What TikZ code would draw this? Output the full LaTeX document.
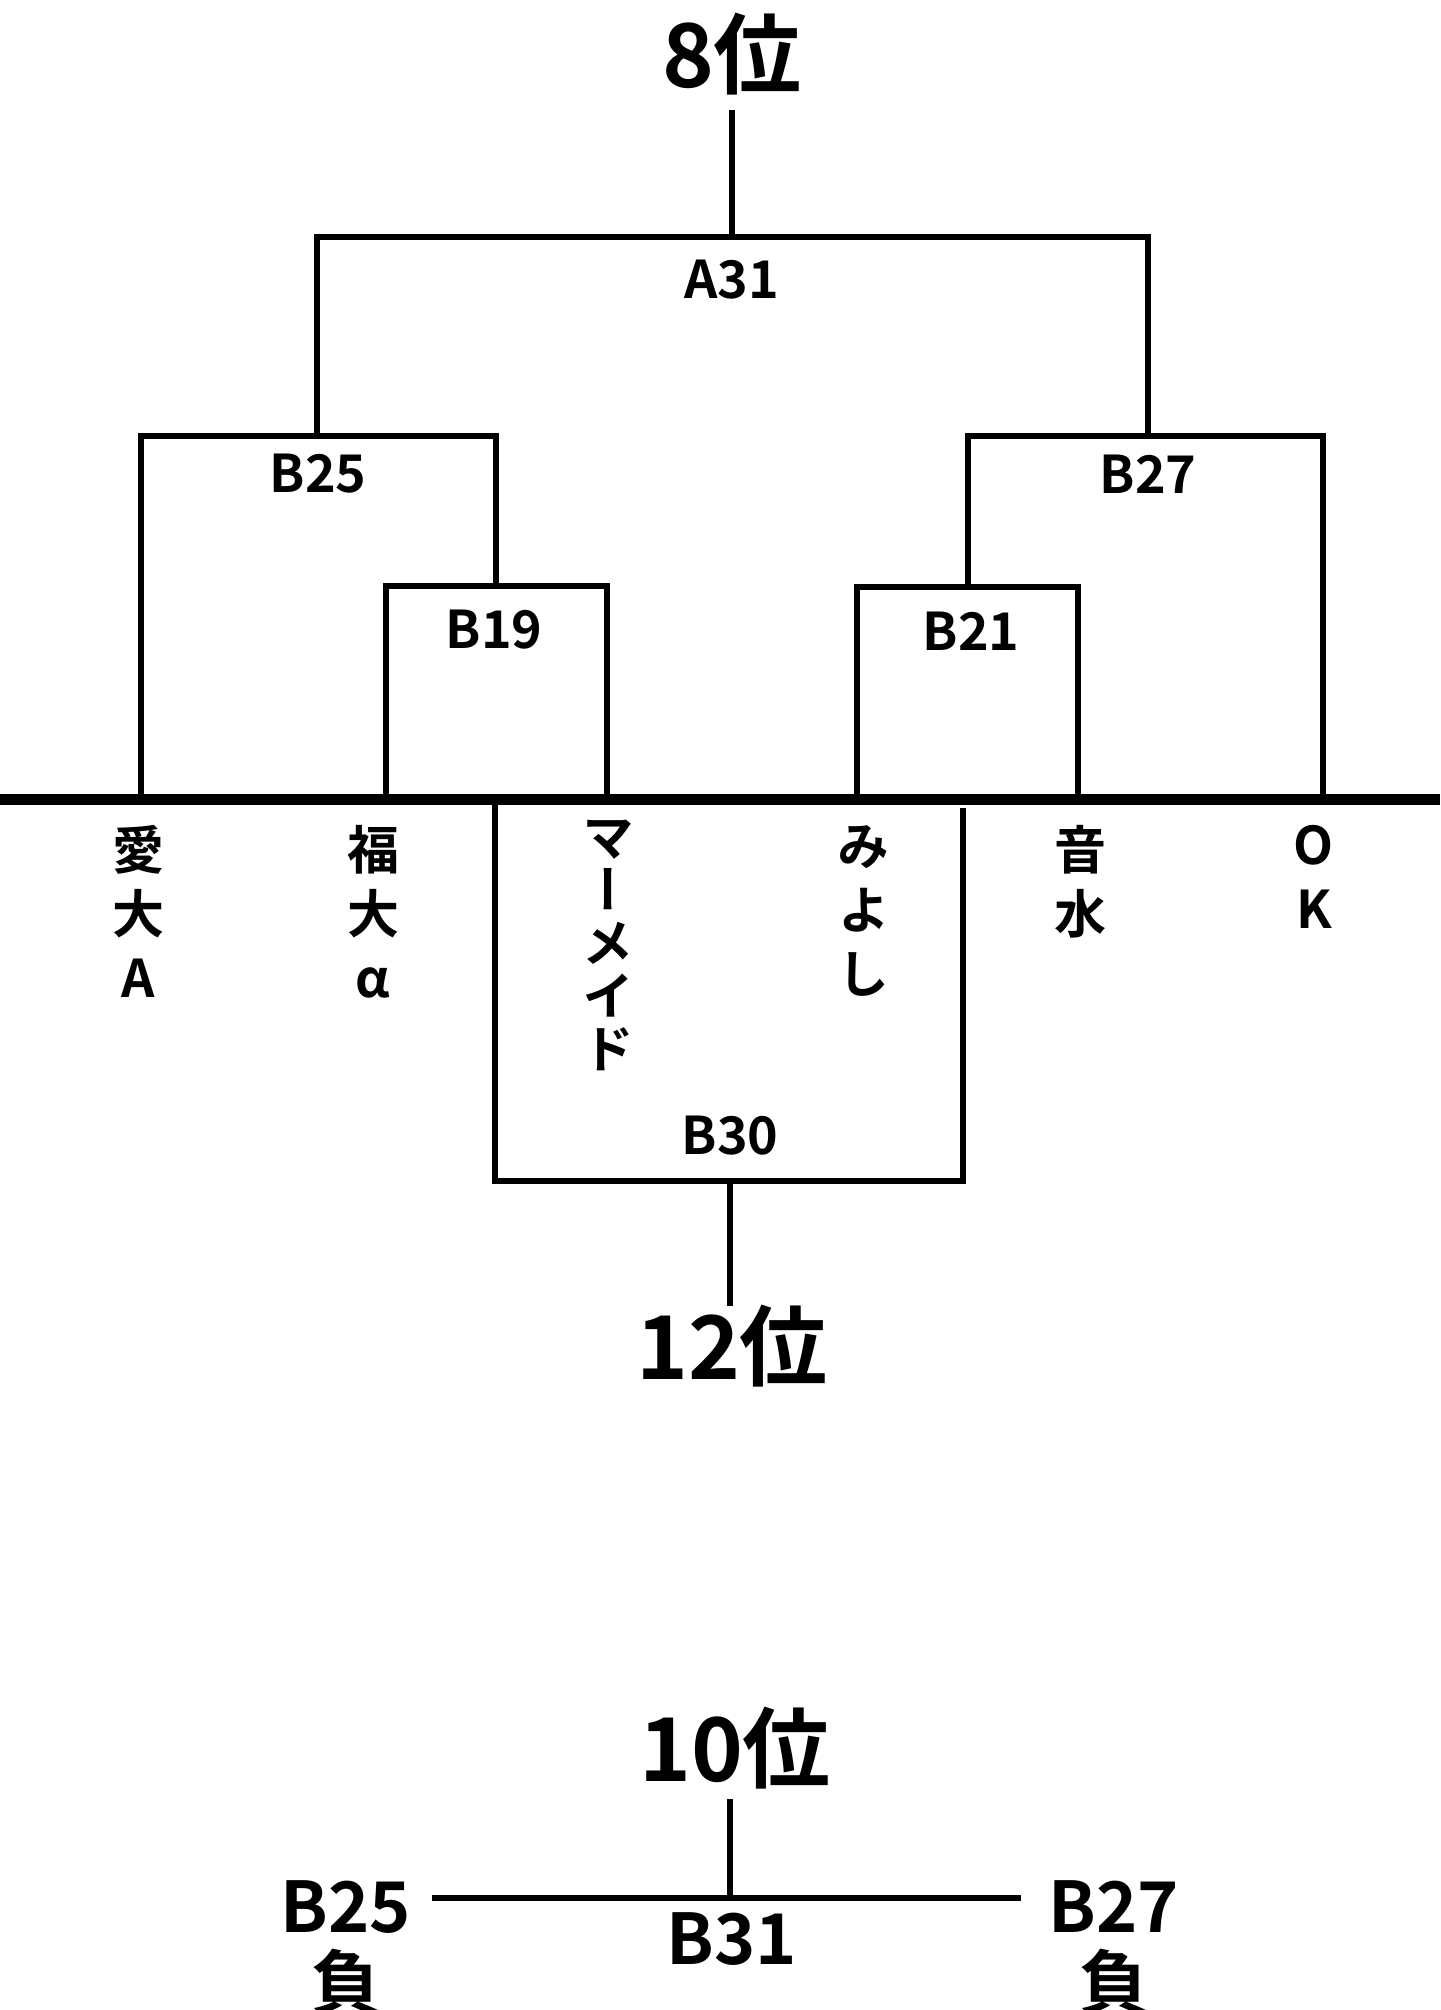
\documentclass[tikz,border=0pt]{standalone}
\usepackage{fontspec}
\setmainfont{Noto Sans CJK JP}[BoldFont={Noto Sans CJK JP Bold}]
\newfontfamily\tatefont{Noto Sans CJK JP}[RawFeature=+vert, BoldFont={Noto Sans CJK JP Bold}]

\begin{document}
\begin{tikzpicture}[x=1pt, y=-1pt,
  line/.style={line width=5.5pt, line cap=rect},
  match/.style={inner sep=0pt, font=\bfseries\fontsize{52}{60}\selectfont},
  team/.style={inner sep=0pt, anchor=north, align=center, font=\tatefont\bfseries\fontsize{52}{64}\selectfont},
  rank/.style={inner sep=0pt, font=\bfseries\fontsize{88}{88}\selectfont},
  loser/.style={inner sep=0pt, anchor=north, align=center, font=\bfseries\fontsize{70}{76}\selectfont}]

 \useasboundingbox (0,0) rectangle (1440,2010);

 %%%%%%%%%% Points of the bracket %%%%%%%%%%
 \coordinate (top8) at (732,113);
 \coordinate (a31) at (732,237);
 \coordinate (b25) at (317,436);
 \coordinate (b27) at (1148,436);
 \coordinate (b19) at (496,586);
 \coordinate (b21) at (968,587);

 % feet on the line
 \coordinate (f1) at (141,791);
 \coordinate (f2) at (386,791);
 \coordinate (f3) at (607,791);
 \coordinate (f4) at (857,791);
 \coordinate (f5) at (1078,791);
 \coordinate (f6) at (1323,791);

 % B30
 \coordinate (b30l) at (495,805);
 \coordinate (b30r) at (963,811);
 \coordinate (b30) at (730,1181);
 \coordinate (top12) at (730,1303);

 % B31
 \coordinate (top10) at (730,1802);
 \coordinate (b31) at (730,1898);
 \coordinate (b31l) at (432,1898);
 \coordinate (b31r) at (1021,1898);

 %%%%%%%%%% Upper bracket %%%%%%%%%%
 \draw [line] (top8) -- (a31) ;
 \draw [line] (b25) |- (a31) -| (b27) ;
 \draw [line] (f1) |- (b25) -| (b19) ;
 \draw [line] (f2) |- (b19) -| (f3) ;
 \draw [line] (b21) |- (b27) -| (f6) ;
 \draw [line] (f4) |- (b21) -| (f5) ;

 % base line
 \draw [line width=11pt] (0,799) -- (1440,799) ;

 %%%%%%%%%% Lower bracket %%%%%%%%%%
 \draw [line] (b30l) |- (b30) -| (b30r) ;
 \draw [line] (b30) -- (top12) ;

 \draw [line] (top10) -- (b31) ;
 \draw [line width=6pt] (b31l) -- (b31r) ;

 %%%%%%%%%% Texts %%%%%%%%%%
 \node [rank] (rank8) at (732,54) {8位};
 \node [rank] (rank12) at (732,1346) {12位};
 \node [rank] (rank10) at (735,1748) {10位};

 \node [match] (A31) at (732,280) {A31};
 \node [match] (B25) at (318,474) {B25};
 \node [match] (B27) at (1148,474) {B27};
 \node [match] (B19) at (494,630) {B19};
 \node [match] (B21) at (971,631) {B21};
 \node [match] (B30) at (730,1136) {B30};

 \node [team] (aidai) at (138,825) {愛\\大\\A};
 \node [team] (fukudai) at (373,825) {福\\大\\α};
 \node [team, font=\tatefont\bfseries\fontsize{52}{53}\selectfont] (mermaid) at (608,820) {マ\\ー\\メ\\イ\\ド};
 \node [team] (miyoshi) at (863,825) {み\\よ\\し};
 \node [team] (onsui) at (1080,825) {音\\水};
 \node [team] (ok) at (1314,825) {O\\K};

 \node [loser] (lose25) at (346,1880) {B25\\負};
 \node [loser] (lose27) at (1114,1880) {B27\\負};
 \node [match, font=\bfseries\fontsize{70}{76}\selectfont] (B31) at (732,1939) {B31};

\end{tikzpicture}
\end{document}
